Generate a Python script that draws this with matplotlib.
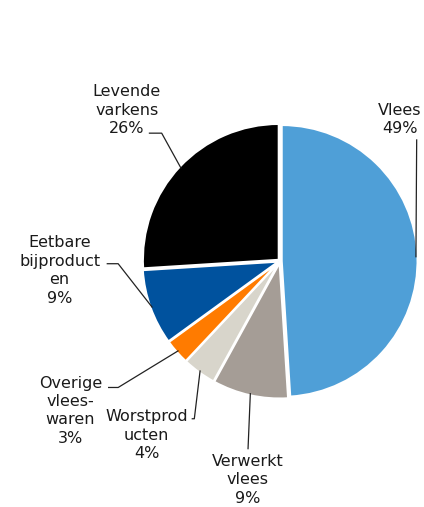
import numpy as np
from matplotlib import pyplot as plt

labels = ["Vlees", "Verwerkt\nvlees", "Worstprod\nucten", "Overige\nvlees-\nwaren",
          "Eetbare\nbijproduct\nen", "Levende\nvarkens"]
shares = [49, 9, 4, 3, 9, 26]
colors = ["#4f9fd7", "#a59d96", "#d8d5cb", "#ff7b00", "#00529e", "#000000"]

# label centre and leader-line points (axes data units, radius = 1)
text_pos = [(0.88, 1.04), (-0.24, -1.61), (-0.98, -1.28), (-1.54, -1.10), (-1.62, -0.07), (-1.125, 1.11)]
leaders = [
    [(1.005, 0.89)],
    [(-0.235, -1.38)],
    [(-0.63, -1.16), (-0.645, -1.16)],
    [(-1.19, -0.93), (-1.26, -0.93)],
    [(-1.19, -0.02), (-1.27, -0.02)],
    [(-0.87, 0.94), (-0.96, 0.94)],
]


def main():
    fig = plt.figure(figsize=(4.24, 5.07), dpi=100)
    W, H = 424, 507
    cx, cy, r = 280, 261, 136
    ax = fig.add_axes([(cx - r) / W, (H - cy - r) / H, 2 * r / W, 2 * r / H])

    wedges, _ = ax.pie(shares, colors=colors, startangle=90, counterclock=False,
                       radius=1, explode=[0.012] * len(shares),
                       wedgeprops=dict(edgecolor="white", linewidth=1.6))
    ax.set_xlim(-1, 1)
    ax.set_ylim(-1, 1)
    ax.set_aspect("equal")
    ax.axis("off")

    for w, lab, pct, tp, pts in zip(wedges, labels, shares, text_pos, leaders):
        mid = np.deg2rad((w.theta1 + w.theta2) / 2)
        ex, ey = np.cos(mid) * 1.0, np.sin(mid) * 1.0
        xs = [ex] + [p[0] for p in pts]
        ys = [ey] + [p[1] for p in pts]
        ax.plot(xs, ys, color="#222222", lw=0.9, clip_on=False)
        ax.text(tp[0], tp[1], "%s\n%d%%" % (lab, pct), ha="center", va="center",
                multialignment="center", fontsize=11.5, color="#1a1a1a",
                linespacing=1.28, clip_on=False)

    fig.savefig("out.png", dpi=100)


if __name__ == "__main__":
    main()
